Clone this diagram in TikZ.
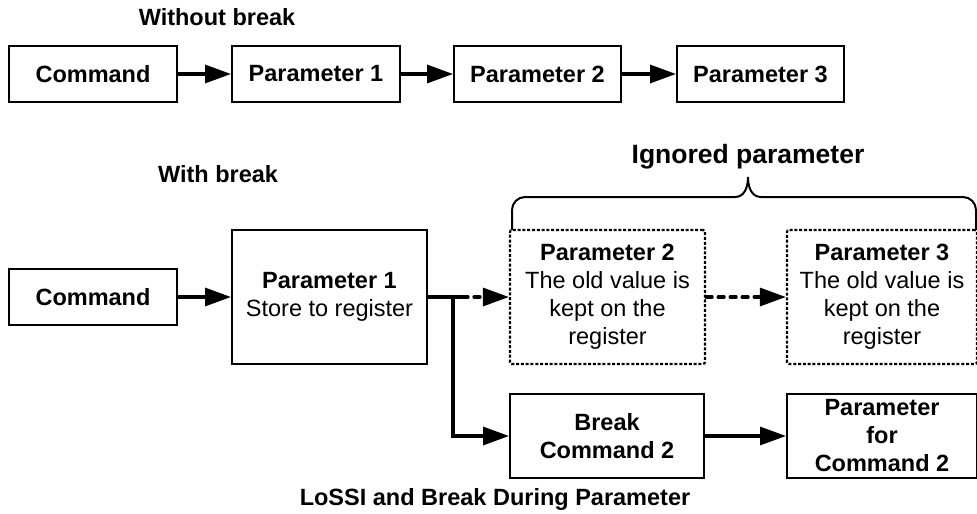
\documentclass[tikz,border=0pt]{standalone}
\usepackage{fontspec}
\setmainfont{Liberation Sans}
\usetikzlibrary{arrows.meta}
\begin{document}
\begin{tikzpicture}[x=0.5pt,y=-0.5pt,
  box/.style={draw, line width=1pt, inner sep=0pt, align=center, font=\fontsize{11.75}{14}\selectfont},
  bbox/.style={box, font=\fontsize{11.75}{14}\selectfont\bfseries},
  dbox/.style={box, line width=1.1pt, dash pattern=on 1.5pt off 0.9pt, rounded corners=1pt},
  arr/.style={line width=1.6pt, -{Triangle[length=13pt,width=9pt]}},
  darr/.style={arr, line cap=round, dash pattern=on 3pt off 3pt},
  title/.style={font=\fontsize{11.75}{14}\selectfont\bfseries, anchor=base, inner sep=0pt}
]
\useasboundingbox (0,0) rectangle (977,513);

% titles
\node[title] (t1) at (217,26) {Without break};
\node[title] (t2) at (218,183) {With break};
\node[title, font=\fontsize{13.25}{16}\selectfont\bfseries] (t3) at (748,163) {Ignored parameter};
\node[title] (t4) at (495,505) {LoSSI and Break During Parameter};

% top row
\node[bbox, minimum width=84pt, minimum height=28pt] (cmdA) at (93,74) {Command};
\node[bbox, minimum width=84pt, minimum height=28pt] (p1A) at (316,74) {Parameter 1};
\node[bbox, minimum width=83.5pt, minimum height=28pt] (p2A) at (537.5,74) {Parameter 2};
\node[bbox, minimum width=83.5pt, minimum height=28pt] (p3A) at (760.5,74) {Parameter 3};
\draw[arr] (cmdA) -- (p1A);
\draw[arr] (p1A) -- (p2A);
\draw[arr] (p2A) -- (p3A);

% bottom
\node[bbox, minimum width=84pt, minimum height=28pt] (cmdB) at (93,297) {Command};
\node[box, minimum width=97.5pt, minimum height=67pt] (p1B) at (329.5,297) {\textbf{Parameter 1}\\Store to register};
\node[dbox, minimum width=97.5pt, minimum height=67pt] (p2B) at (607.5,297) {\textbf{Parameter 2}\\The old value is\\kept on the\\register};
\node[dbox, minimum width=95pt, minimum height=67pt] (p3B) at (882,297) {\textbf{Parameter 3}\\The old value is\\kept on the\\register};
\node[bbox, minimum width=97pt, minimum height=42pt] (brkB) at (607,436) {Break\\Command 2};
\node[bbox, minimum width=95pt, minimum height=42pt] (pc2B) at (882,436) {Parameter\\for\\Command 2};

\coordinate (br) at (453,297);
\coordinate (ds) at (462,297);
\draw[arr] (cmdB) -- (p1B);
\draw[line width=1.6pt] (p1B.east) -- (ds);
\draw[darr] (ds) -- (p2B.west);
\draw[darr] (p2B) -- (p3B);
\draw[arr] (br) |- (brkB.west);
\draw[arr] (brkB) -- (pc2B);

% brace
\draw[line width=1pt] (512,230) -- (512,210) arc[start angle=180,end angle=90,radius=6.5pt]
  -- (735,197) .. controls (744,197) and (748,188) .. (748,177)
  .. controls (748,188) and (752,197) .. (761,197)
  -- (963,197) arc[start angle=90,end angle=0,radius=6.5pt] -- (976,230);
\end{tikzpicture}
\end{document}
